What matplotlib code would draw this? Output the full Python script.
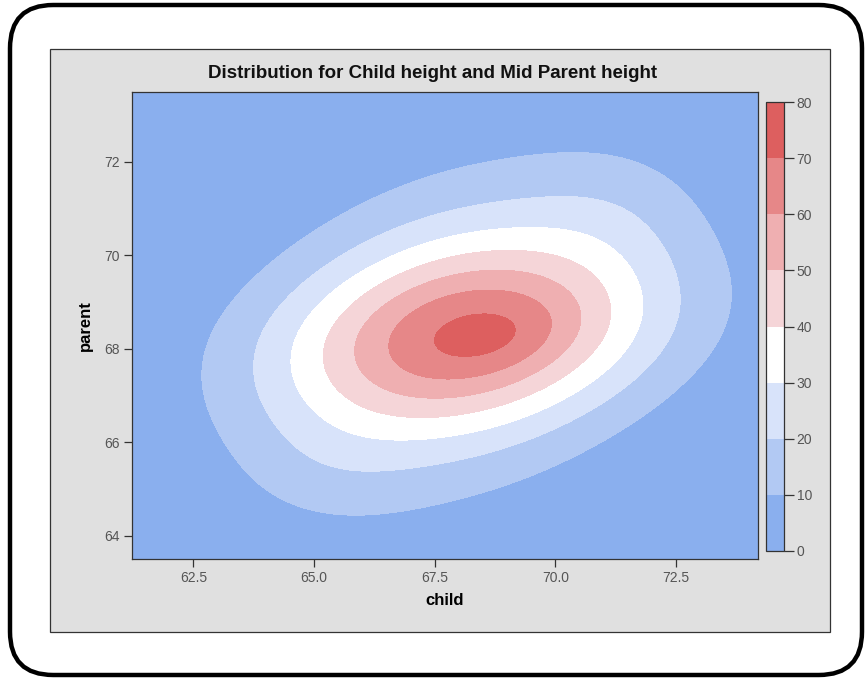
import numpy as np
import matplotlib.pyplot as plt
from matplotlib.patches import FancyBboxPatch, Rectangle

plt.rcParams["font.family"] = ["Liberation Sans", "DejaVu Sans"]

# Density surface: a few bivariate normal bumps (height in density units)
comp_child = [68.3, 68.0, 68.9, 71.3, 65.2]
comp_parent = [68.3, 68.35, 68.25, 71.0, 65.4]
comp_sd_child = [2.75, 2.8, 0.9, 1.3, 1.3]
comp_sd_parent = [1.32, 2.3, 0.5, 1.0, 0.9]
comp_rho = [0.25, 0.3, 0.3, 0.0, 0.0]
comp_height = [38, 33, 4, 5, 4]

levels = [0, 10, 20, 30, 40, 50, 60, 70, 80]
level_colors = ["#8aafee", "#b2c9f3", "#d8e3fa", "#ffffff",
                "#f5d5d8", "#efafb1", "#e68788", "#dd5f5f"]

x_ticks = [62.5, 65.0, 67.5, 70.0, 72.5]
y_ticks = [64, 66, 68, 70, 72]
x_range = (61.22, 74.2)
y_range = (63.5, 73.5)


def density(cx, py):
    z = np.zeros_like(cx)
    for mx, my, sx, sy, r, h in zip(comp_child, comp_parent, comp_sd_child,
                                    comp_sd_parent, comp_rho, comp_height):
        u = (cx - mx) / sx
        v = (py - my) / sy
        q = (u * u - 2 * r * u * v + v * v) / (1 - r * r)
        z += h * np.exp(-q / 2)
    return z


gx = np.linspace(*x_range, 400)
gy = np.linspace(*y_range, 400)
CX, PY = np.meshgrid(gx, gy)
Z = density(CX, PY)

fig = plt.figure(figsize=(8.65, 6.78), dpi=100)
W, H = 865, 678

# rounded outer frame and grey graph panel, kept behind the axes
frame = FancyBboxPatch((10 / W, 1 - 675 / H), 852 / W, 670 / H,
                       boxstyle="round,pad=0,rounding_size=0.05",
                       transform=fig.transFigure, facecolor="white",
                       edgecolor="black", linewidth=3.2, mutation_aspect=W / H,
                       zorder=-2)
fig.patches.append(frame)
panel = Rectangle((50 / W, 1 - 632 / H), 780 / W, 583 / H,
                  transform=fig.transFigure, facecolor="#e0e0e0",
                  edgecolor="#333333", linewidth=0.9, zorder=-1)
fig.patches.append(panel)

ax = fig.add_axes([131.7 / W, 1 - 559 / H, 626.3 / W, 467.3 / H])
cf = ax.contourf(CX, PY, Z, levels=levels, colors=level_colors, extend="neither")
ax.set_xlim(*x_range)
ax.set_ylim(*y_range)
ax.set_xticks(x_ticks)
ax.set_xticklabels([f"{t:.1f}" for t in x_ticks])
ax.set_yticks(y_ticks)
ax.tick_params(direction="out", length=5.5, width=0.9, colors="#333333",
               labelcolor="#555555", labelsize=10, pad=3)
for s in ax.spines.values():
    s.set_color("#333333")
    s.set_linewidth(0.9)
ax.set_xlabel("child", fontsize=12, fontweight="bold", labelpad=6)
ax.set_ylabel("parent", fontsize=12, fontweight="bold", labelpad=8)

fig.text(0.5, 1 - 74 / H, "Distribution for Child height and Mid Parent height",
         ha="center", va="center", fontsize=13.5, fontweight="bold", color="#111111")

cax = fig.add_axes([766 / W, 1 - 551 / H, 18 / W, 449 / H])
cb = fig.colorbar(cf, cax=cax, ticks=levels)
cb.outline.set_edgecolor("#333333")
cb.outline.set_linewidth(0.9)
cax.tick_params(direction="out", length=7, width=0.9, colors="#333333",
                labelcolor="#555555", labelsize=10, pad=2)

fig.savefig("out.png", dpi=100)
